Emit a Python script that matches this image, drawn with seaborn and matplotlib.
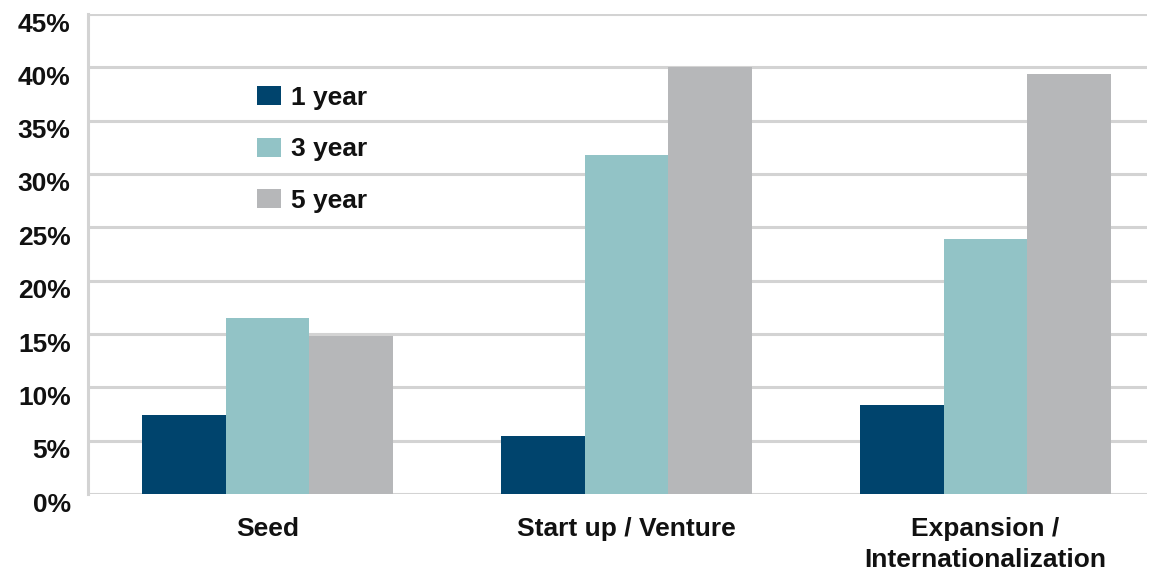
import matplotlib
matplotlib.use("Agg")
import matplotlib.pyplot as plt
import matplotlib.transforms as mtransforms
import seaborn as sns
import pandas as pd

categories = ["Seed", "Start up / Venture", "Expansion /\nInternationalization"]
series_names = ["1 year", "3 year", "5 year"]
one_year = [7.4, 5.4, 8.3]
three_year = [16.5, 31.8, 23.9]
five_year = [14.8, 40.0, 39.4]
y_ticks = [0, 5, 10, 15, 20, 25, 30, 35, 40, 45]
colors = ["#00446d", "#92c3c6", "#b6b7b9"]

rows = []
for name, vals in zip(series_names, [one_year, three_year, five_year]):
    for c, v in zip(categories, vals):
        rows.append({"cat": c, "series": name, "value": v})
df = pd.DataFrame(rows)

sns.set_theme(style="white")
plt.rcParams['font.family'] = ['Liberation Sans', 'DejaVu Sans']

fig = plt.figure(figsize=(11.49, 5.74), dpi=100)
ax = fig.add_axes([88/1149, 1-494/574, (1147-88)/1149, (494-14)/574])

sns.barplot(data=df, x="cat", y="value", hue="series", order=categories,
            hue_order=series_names, palette=colors, width=0.70, saturation=1,
            edgecolor="none", linewidth=0, ax=ax, zorder=3)

FS = 19
ax.set_xlim(-0.5, 2.45)
ax.set_ylim(0, 45)
ax.set_yticks(y_ticks)
ax.set_yticklabels([f"{t}%" for t in y_ticks], fontsize=FS, fontweight="bold", color="#111111")
ax.set_xticklabels(categories, fontsize=FS, fontweight="bold", color="#111111", linespacing=1.35)
ax.tick_params(axis="y", length=0, pad=12.5)
ax.tick_params(axis="x", length=0, pad=16.5)
offset = mtransforms.ScaledTranslation(0, -8/100, fig.dpi_scale_trans)
for lbl in ax.get_yticklabels():
    lbl.set_transform(lbl.get_transform() + offset)
ax.set_xlabel("")
ax.set_ylabel("")
ax.grid(axis="y", color="#d3d3d3", linewidth=2.2, zorder=0)
ax.set_axisbelow(True)
for s in ["top", "right", "bottom"]:
    ax.spines[s].set_visible(False)
ax.spines["left"].set_color("#d3d3d3")
ax.spines["left"].set_linewidth(2.2)

ax.legend_.remove()
handles, labels = ax.get_legend_handles_labels()
leg = fig.legend(handles, labels, loc="upper left", bbox_to_anchor=(257/1149, 1-86/574),
                 frameon=False, prop={"size": FS, "weight": "bold"},
                 handlelength=0.9, handleheight=0.72, handletextpad=0.38,
                 labelspacing=1.04, borderpad=0, borderaxespad=0)
for t in leg.get_texts():
    t.set_color("#111111")

fig.savefig("out.png", dpi=100)
